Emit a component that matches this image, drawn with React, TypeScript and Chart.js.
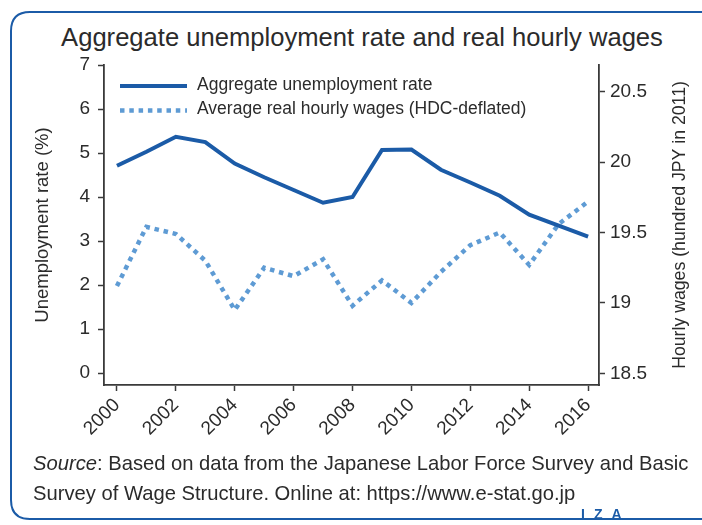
import React, { useEffect, useRef } from "react";
import { Chart, registerables } from "chart.js";

Chart.register(...registerables);

// ---- data ----
const years = [2000, 2001, 2002, 2003, 2004, 2005, 2006, 2007, 2008, 2009, 2010, 2011, 2012, 2013, 2014, 2015, 2016];
const unemployment = [4.71, 5.03, 5.37, 5.25, 4.76, 4.45, 4.16, 3.87, 4.0, 5.07, 5.08, 4.62, 4.33, 4.03, 3.6, 3.35, 3.1];
const wages = [19.12, 19.54, 19.49, 19.3, 18.95, 19.25, 19.19, 19.31, 18.98, 19.16, 19.0, 19.22, 19.41, 19.5, 19.27, 19.56, 19.72];
const xTicks = [2000, 2002, 2004, 2006, 2008, 2010, 2012, 2014, 2016];
const leftTicks = [0, 1, 2, 3, 4, 5, 6, 7];
const rightTicks = [18.5, 19, 19.5, 20, 20.5];
const seriesLabels = ["Aggregate unemployment rate", "Average real hourly wages (HDC-deflated)"];
const titleText = "Aggregate unemployment rate and real hourly wages";
const leftTitle = "Unemployment rate (%)";
const rightTitle = "Hourly wages (hundred JPY in 2011)";

const SOLID = "#1b5ba7";
const DOT = "#5e9bd4";
const AXIS = "#3a3a3a";
const TEXT = "#2b2b2b";
const FONT = "'Liberation Sans', Arial, sans-serif";

const legendPlugin = {
  id: "insideLegend",
  afterDraw(chart: any) {
    const { ctx, chartArea } = chart;
    ctx.save();
    chart.data.datasets.forEach((ds: any, i: number) => {
      const y = chartArea.top + 21 + i * 24.5;
      const x0 = chartArea.left + 16;
      ctx.beginPath();
      ctx.lineWidth = ds.borderWidth;
      ctx.strokeStyle = ds.borderColor;
      ctx.setLineDash(ds.borderDash || []);
      ctx.lineCap = "butt";
      ctx.moveTo(x0, y);
      ctx.lineTo(x0 + 67, y);
      ctx.stroke();
      ctx.setLineDash([]);
      ctx.fillStyle = TEXT;
      ctx.font = `17.5px ${FONT}`;
      ctx.textAlign = "left";
      ctx.textBaseline = "middle";
      ctx.fillText(ds.label, x0 + 77, y - 1);
    });
    ctx.restore();
  },
};

const rightTitlePlugin = {
  id: "rightTitle",
  afterDraw(chart: any) {
    const { ctx, chartArea } = chart;
    const s = chart.scales.y1;
    ctx.save();
    ctx.translate(s.right - 20, (chartArea.top + chartArea.bottom) / 2);
    ctx.rotate(-Math.PI / 2);
    ctx.fillStyle = TEXT;
    ctx.font = `17.7px ${FONT}`;
    ctx.textAlign = "center";
    ctx.textBaseline = "middle";
    ctx.fillText(rightTitle, 0, 0);
    ctx.restore();
  },
};

export default function App() {
  const ref = useRef<HTMLCanvasElement | null>(null);

  useEffect(() => {
    if (!ref.current) return;
    const tickFont = { family: FONT, size: 19 };
    const chart = new Chart(ref.current, {
      type: "line",
      data: {
        datasets: [
          {
            label: seriesLabels[0],
            data: years.map((yr, i) => ({ x: yr, y: unemployment[i] })),
            borderColor: SOLID,
            backgroundColor: SOLID,
            borderWidth: 4,
            pointRadius: 0,
            tension: 0,
            yAxisID: "y",
          },
          {
            label: seriesLabels[1],
            data: years.map((yr, i) => ({ x: yr, y: wages[i] })),
            borderColor: DOT,
            backgroundColor: DOT,
            borderWidth: 4.5,
            borderDash: [4.5, 4.8],
            pointRadius: 0,
            tension: 0,
            yAxisID: "y1",
          },
        ],
      },
      options: {
        responsive: false,
        animation: false,
        layout: { padding: { top: 51, left: 0, right: 0, bottom: 0 } },
        plugins: {
          legend: { display: false },
          tooltip: { enabled: false },
        },
        scales: {
          x: {
            type: "linear",
            min: 1999.56,
            max: 2016.37,
            afterBuildTicks: (s: any) => {
              s.ticks = xTicks.map((v) => ({ value: v }));
            },
            afterFit: (s: any) => {
              s.height = 69;
            },
            ticks: {
              callback: (v: any) => String(v),
              minRotation: 45,
              maxRotation: 45,
              font: tickFont,
              color: TEXT,
              padding: 3,
              autoSkip: false,
            },
            grid: { drawOnChartArea: false, drawTicks: true, tickLength: 6, tickColor: AXIS, tickWidth: 1.5 },
            border: { display: true, color: AXIS, width: 1.8 },
          },
          y: {
            position: "left",
            min: -0.27,
            max: 7,
            afterBuildTicks: (s: any) => {
              s.ticks = leftTicks.map((v) => ({ value: v }));
            },
            afterFit: (s: any) => {
              s.width = 94;
            },
            ticks: { callback: (v: any) => String(v), font: tickFont, color: TEXT, padding: 8 },
            grid: { drawOnChartArea: false, drawTicks: true, tickLength: 6, tickColor: AXIS, tickWidth: 1.5 },
            border: { display: true, color: AXIS, width: 1.8 },
            title: {
              display: true,
              text: leftTitle,
              font: { family: FONT, size: 18.5 },
              color: TEXT,
              padding: { top: 22, bottom: 0 },
            },
          },
          y1: {
            position: "right",
            min: 18.417,
            max: 20.69,
            afterBuildTicks: (s: any) => {
              s.ticks = rightTicks.map((v) => ({ value: v }));
            },
            afterFit: (s: any) => {
              s.width = 101;
            },
            ticks: { callback: (v: any) => String(v), font: tickFont, color: TEXT, padding: 5 },
            grid: { drawOnChartArea: false, drawTicks: true, tickLength: 6, tickColor: AXIS, tickWidth: 1.5 },
            border: { display: true, color: AXIS, width: 1.8 },
          },
        },
      },
      plugins: [legendPlugin, rightTitlePlugin],
    });
    return () => chart.destroy();
  }, []);

  return (
    <div style={{ position: "fixed", left: 0, top: 0, width: 702, height: 525, overflow: "hidden", fontFamily: FONT, color: TEXT, background: "#fff" }}>
      <svg width={702} height={525} style={{ position: "absolute", left: 0, top: 0 }}>
        <path d="M 720 12 H 30 Q 11 12 11 31 V 500 Q 11 519 30 519 H 720" fill="none" stroke={SOLID} strokeWidth={2} />
      </svg>
      <div
        style={{
          position: "absolute",
          left: 0,
          width: 724,
          top: 24,
          textAlign: "center",
          fontSize: 25.6,
          lineHeight: "26px",
          whiteSpace: "nowrap",
        }}
      >
        {titleText}
      </div>
      <canvas ref={ref} width={690} height={440} style={{ position: "absolute", left: 10, top: 14, width: 690, height: 440 }} />
      <div
        style={{
          position: "absolute",
          left: 33,
          top: 448,
          fontSize: 20.2,
          lineHeight: "30px",
          whiteSpace: "nowrap",
        }}
      >
        <div>
          <i>Source</i>: Based on data from the Japanese Labor Force Survey and Basic
        </div>
        <div>Survey of Wage Structure. Online at: https://www.e-stat.go.jp</div>
      </div>
      <div
        style={{
          position: "absolute",
          left: 581,
          top: 506,
          fontSize: 14,
          lineHeight: "16px",
          fontWeight: "bold",
          color: SOLID,
          letterSpacing: 9,
          whiteSpace: "nowrap",
        }}
      >
        IZA
      </div>
    </div>
  );
}
